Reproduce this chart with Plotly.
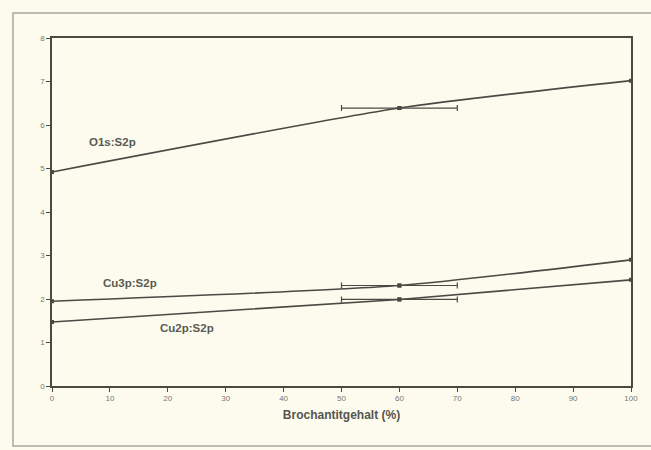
import plotly.graph_objects as go

# Data
x_vals = [0, 60, 100]
o1s_s2p = [4.92, 6.39, 7.02]
cu3p_s2p = [1.95, 2.31, 2.90]
cu2p_s2p = [1.47, 1.99, 2.44]
err_x = 60
err_half = 10
series_names = ["O1s:S2p", "Cu3p:S2p", "Cu2p:S2p"]
x_ticks = list(range(0, 101, 10))
y_ticks = list(range(0, 9))

line_col = "#4a4a44"
bg = "#fdfbee"

fig = go.Figure()
for name, ys in zip(series_names, [o1s_s2p, cu3p_s2p, cu2p_s2p]):
    fig.add_trace(go.Scatter(
        x=x_vals, y=ys, mode="lines+markers", name=name,
        line=dict(color=line_col, width=1.6, shape="spline", smoothing=0.6),
        marker=dict(color=line_col, size=4, symbol="square"),
        showlegend=False, hoverinfo="skip"))
    idx = x_vals.index(err_x)
    fig.add_trace(go.Scatter(
        x=[err_x], y=[ys[idx]], mode="markers",
        marker=dict(color=line_col, size=4, symbol="square"),
        error_x=dict(type="constant", value=err_half, color=line_col, thickness=1.2, width=3),
        showlegend=False, hoverinfo="skip"))

label_pos = [(10.5, 5.6, "O1s:S2p"), (13.5, 2.37, "Cu3p:S2p"), (23.4, 1.33, "Cu2p:S2p")]
for lx, ly, txt in label_pos:
    fig.add_annotation(x=lx, y=ly, text="<b>" + txt + "</b>", showarrow=False,
                       font=dict(family="Arial, Liberation Sans", size=11.5, color="#5a5a54"))

# outer frame of the figure
fig.add_shape(type="rect", xref="paper", yref="paper",
              x0=-0.0674, x1=1.06, y0=-0.1724, y1=1.0718,
              line=dict(color="#a8a8a0", width=1.5), layer="below")

axis_common = dict(showline=True, linecolor=line_col, linewidth=1.5, mirror=True,
                   ticks="outside", ticklen=4, tickcolor=line_col, tickwidth=1,
                   showgrid=False, zeroline=False,
                   tickfont=dict(family="Arial, Liberation Sans", size=8, color="#77776f"))

fig.update_layout(
    width=651, height=450,
    margin=dict(l=52, r=20, t=38, b=64),
    paper_bgcolor=bg, plot_bgcolor=bg,
    xaxis=dict(range=[0, 100], tickvals=x_ticks, **axis_common,
               title=dict(text="<b>Brochantitgehalt (%)</b>", standoff=8,
                          font=dict(family="Arial, Liberation Sans", size=12, color="#55554f"))),
    yaxis=dict(range=[0, 8], tickvals=y_ticks, **axis_common),
)

fig.write_html("out.html", config={"displayModeBar": False},
               post_script="document.body.style.margin='0';document.body.style.overflow='hidden';document.body.style.background='#fdfbee';")
